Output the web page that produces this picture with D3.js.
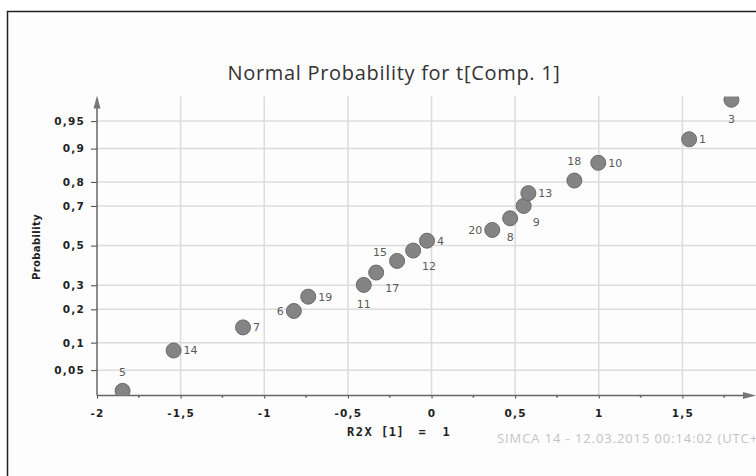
<!DOCTYPE html>
<html>
<head>
<meta charset="utf-8">
<script src="https://cdn.jsdelivr.net/npm/d3@7"></script>
<style>
  body { margin: 0; background: #fff; }
  svg { display: block; }
  .tick-label { font-family: "DejaVu Sans", sans-serif; font-size: 10.5px; font-weight: bold; fill: #222; letter-spacing: 1.2px; }
  .pt-label { font-family: "DejaVu Sans", sans-serif; font-size: 11px; fill: #5a5a5a; }
</style>
</head>
<body>
<svg id="chart" width="756" height="476"></svg>
<script>
const obsNames = ['5', '14', '7', '6', '19', '11', '17', '15', '12', '4', '20', '8', '9', '13', '18', '10', '1', '3'];
const tValues = [-1.847, -1.542, -1.127, -0.823, -0.737, -0.405, -0.331, -0.206, -0.110, -0.027, 0.363, 0.470, 0.551, 0.579, 0.854, 0.997, 1.540, 1.793];
const probValues = [0.0275, 0.083, 0.14, 0.194, 0.25, 0.302, 0.361, 0.42, 0.474, 0.526, 0.582, 0.641, 0.70, 0.756, 0.805, 0.863, 0.92, 0.973];

const xTicks = [-2, -1.5, -1, -0.5, 0, 0.5, 1, 1.5];
const probTicks = [0.05, 0.1, 0.2, 0.3, 0.5, 0.7, 0.8, 0.9, 0.95];

// where each label sits relative to its point
const labelSide = {
  '5': 'above', '14': 'right', '7': 'right', '6': 'left', '19': 'right', '11': 'below',
  '17': 'belowright', '15': 'aboveleft', '12': 'belowright', '4': 'right', '20': 'left',
  '8': 'below', '9': 'belowright', '13': 'right', '18': 'above', '10': 'right', '1': 'right', '3': 'below'
};

const data = obsNames.map((n, i) => ({ name: n, t: tValues[i], p: probValues[i] }));

// inverse normal cdf (Acklam) for the probability axis
function probit(p) {
  const a = [-39.69683028665376, 220.9460984245205, -275.9285104469687, 138.3577518672690, -30.66479806614716, 2.506628277459239];
  const b = [-54.47609879822406, 161.5858368580409, -155.6989798598866, 66.80131188771972, -13.28068155288572];
  const c = [-0.007784894002430293, -0.3223964580411365, -2.400758277161838, -2.549732539343734, 4.374664141464968, 2.938163982698783];
  const d = [0.007784695709041462, 0.3224671290700398, 2.445134137142996, 3.754408661907416];
  const pl = 0.02425;
  let q, r;
  if (p < pl) {
    q = Math.sqrt(-2 * Math.log(p));
    return (((((c[0]*q+c[1])*q+c[2])*q+c[3])*q+c[4])*q+c[5]) / ((((d[0]*q+d[1])*q+d[2])*q+d[3])*q+1);
  }
  if (p > 1 - pl) {
    q = Math.sqrt(-2 * Math.log(1 - p));
    return -(((((c[0]*q+c[1])*q+c[2])*q+c[3])*q+c[4])*q+c[5]) / ((((d[0]*q+d[1])*q+d[2])*q+d[3])*q+1);
  }
  q = p - 0.5; r = q * q;
  return (((((a[0]*r+a[1])*r+a[2])*r+a[3])*r+a[4])*r+a[5])*q / (((((b[0]*r+b[1])*r+b[2])*r+b[3])*r+b[4])*r+1);
}

const plotLeft = 97, plotRight = 755, plotTop = 96.5, plotBottom = 395.5;

const x = d3.scaleLinear().domain([-2, 1.934]).range([plotLeft, plotRight]);
const y = d3.scaleLinear().domain([-1.98, 1.97]).range([plotBottom, plotTop]);

const svg = d3.select('#chart');

// outer frame
svg.append('rect').attr('x', 7.5).attr('y', 11.5).attr('width', 760).attr('height', 480)
  .attr('fill', '#fdfdfe').attr('stroke', '#222').attr('stroke-width', 1.5);

// title
svg.append('text')
  .attr('x', 394).attr('y', 80)
  .attr('text-anchor', 'middle')
  .style('font-family', '"Open Sans", sans-serif').style('font-size', '20px').style('fill', '#333')
  .style('letter-spacing', '0.7px')
  .text('Normal Probability for t[Comp. 1]');

// grid
svg.append('g').selectAll('line')
  .data(xTicks.slice(1))
  .join('line')
  .attr('x1', d => x(d)).attr('x2', d => x(d))
  .attr('y1', plotTop).attr('y2', plotBottom)
  .attr('stroke', '#dcdcdc').attr('stroke-width', 1.5);

svg.append('g').selectAll('line')
  .data(probTicks)
  .join('line')
  .attr('x1', plotLeft).attr('x2', 756)
  .attr('y1', d => y(probit(d))).attr('y2', d => y(probit(d)))
  .attr('stroke', '#dcdcdc').attr('stroke-width', 1.5);

// x axis
const xAxis = d3.axisBottom(x).tickValues(xTicks).tickSize(3).tickPadding(9)
  .tickFormat(d => String(d).replace('.', ','));
const gx = svg.append('g').attr('transform', `translate(0,${plotBottom})`).call(xAxis);
gx.select('.domain').remove();
gx.selectAll('.tick line').attr('stroke', '#444');
gx.selectAll('.tick text').attr('class', 'tick-label').attr('dy', '0.9em');

svg.append('g').selectAll('line')
  .data(d3.range(-1.75, 1.9, 0.5))
  .join('line')
  .attr('x1', d => x(d)).attr('x2', d => x(d))
  .attr('y1', plotBottom).attr('y2', plotBottom + 2)
  .attr('stroke', '#444').attr('stroke-width', 1.5);

// y axis
const yAxis = d3.axisLeft(y).tickValues(probTicks.map(probit)).tickSize(6).tickPadding(6)
  .tickFormat((d, i) => String(probTicks[i]).replace('.', ','));
const gy = svg.append('g').attr('transform', `translate(${plotLeft},0)`).call(yAxis);
gy.select('.domain').remove();
gy.selectAll('.tick line').attr('stroke', '#444');
gy.selectAll('.tick text').attr('class', 'tick-label');

// axis lines with arrows
svg.append('line').attr('x1', plotLeft).attr('x2', plotRight - 4).attr('y1', plotBottom).attr('y2', plotBottom)
  .attr('stroke', '#666').attr('stroke-width', 1.5);
svg.append('line').attr('x1', plotLeft).attr('x2', plotLeft).attr('y1', plotBottom).attr('y2', plotTop + 6)
  .attr('stroke', '#666').attr('stroke-width', 1.5);
svg.append('path')
  .attr('d', `M${plotLeft},${plotTop - 1} L${plotLeft - 3.5},${plotTop + 12} L${plotLeft + 3.5},${plotTop + 12} Z`)
  .attr('fill', '#777');
svg.append('path')
  .attr('d', `M${plotRight + 1},${plotBottom} L${plotRight - 12},${plotBottom - 3.5} L${plotRight - 12},${plotBottom + 3.5} Z`)
  .attr('fill', '#777');

// axis titles
svg.append('text')
  .attr('transform', `translate(40,247) rotate(-90)`)
  .attr('text-anchor', 'middle')
  .style('font-family', '"DejaVu Sans", sans-serif').style('font-size', '10px').style('font-weight', 'bold').style('fill', '#222')
  .style('letter-spacing', '0.4px')
  .text('Probability');

const xTitle = svg.append('text')
  .attr('y', 436)
  .style('font-family', '"DejaVu Sans Mono", monospace').style('font-size', '12px').style('font-weight', 'bold').style('fill', '#222');
xTitle.append('tspan').attr('x', 347).style('letter-spacing', '1.5px').text('R2X');
xTitle.append('tspan').attr('x', 381).style('letter-spacing', '0.5px').text('[1]');
xTitle.append('tspan').attr('x', 422).attr('text-anchor', 'middle').text('=');
xTitle.append('tspan').attr('x', 446).attr('text-anchor', 'middle').text('1');

// footer
svg.append('text')
  .attr('x', 497).attr('y', 443)
  .style('font-family', '"Open Sans", sans-serif').style('font-size', '13px').style('fill', '#c4c4c4')
  .style('letter-spacing', '0.9px')
  .text('SIMCA 14 - 12.03.2015 00:14:02 (UTC+1)');

// points
svg.append('clipPath').attr('id', 'plotclip')
  .append('rect').attr('x', plotLeft).attr('y', plotTop).attr('width', plotRight - plotLeft).attr('height', plotBottom - plotTop);

svg.append('g').attr('clip-path', 'url(#plotclip)')
  .selectAll('circle')
  .data(data)
  .join('circle')
  .attr('cx', d => x(d.t))
  .attr('cy', d => y(probit(d.p)))
  .attr('r', 7.5)
  .attr('fill', '#848484')
  .attr('stroke', '#6a6a6a')
  .attr('stroke-width', 1);

const offsets = {
  right: [10, 0, 'start'], left: [-10, 0, 'end'], above: [0, -19, 'middle'], below: [0, 19, 'middle'],
  belowright: [9, 16, 'start'], aboveleft: [-10, -9, 'end']
};

svg.append('g').selectAll('text')
  .data(data)
  .join('text')
  .attr('class', 'pt-label')
  .attr('x', d => x(d.t) + offsets[labelSide[d.name]][0])
  .attr('y', d => y(probit(d.p)) + offsets[labelSide[d.name]][1])
  .attr('dy', '0.35em')
  .attr('text-anchor', d => offsets[labelSide[d.name]][2])
  .text(d => d.name);
</script>
</body>
</html>
